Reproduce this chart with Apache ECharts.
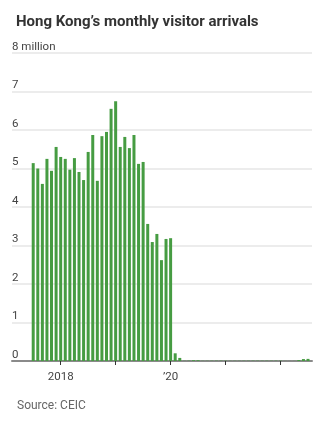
<!DOCTYPE html>
<html>
<head>
<meta charset="utf-8">
<script src="https://cdn.jsdelivr.net/npm/echarts@6/dist/echarts.min.js"></script>
<style>
  html, body { margin: 0; padding: 0; background: #fff; }
  #chart { width: 328px; height: 422px; }
</style>
</head>
<body>
<div id="chart"></div>
<script>
// Monthly visitor arrivals to Hong Kong, millions, July 2017 – July 2022
const startYear = 2017;
const startMonth = 7;
const arrivals = [
  // 2017 Jul–Dec
  5.14, 5.00, 4.60, 5.25, 4.94, 5.56,
  // 2018
  5.30, 5.25, 4.97, 5.27, 4.91, 4.70, 5.43, 5.87, 4.68, 5.84, 5.95, 6.55,
  // 2019
  6.75, 5.56, 5.82, 5.53, 5.87, 5.12, 5.17, 3.56, 3.09, 3.30, 2.62, 3.17,
  // 2020
  3.19, 0.20, 0.08, 0.005, 0.009, 0.02, 0.02, 0.005, 0.006, 0.007, 0.008, 0.008,
  // 2021
  0.007, 0.005, 0.006, 0.006, 0.007, 0.007, 0.008, 0.008, 0.007, 0.008, 0.007, 0.008,
  // 2022 Jan–Jul
  0.008, 0.003, 0.002, 0.003, 0.025, 0.05, 0.055
];

// Month labels, e.g. "2017-07"
const months = arrivals.map((_, i) => {
  const m = startMonth - 1 + i;
  const y = startYear + Math.floor(m / 12);
  return y + '-' + String((m % 12) + 1).padStart(2, '0');
});

// Year ticks (January of each year) and the labelled ones
const yearTicks = ['2018-01', '2019-01', '2020-01', '2021-01', '2022-01'];
const yearLabels = { '2018-01': '2018', '2020-01': '\u201920' };
const yTicks = [0, 1, 2, 3, 4, 5, 6, 7, 8];

// Months counted from January 2017 on the x scale
const monthIndex = s => (Number(s.slice(0, 4)) - 2017) * 12 + Number(s.slice(5, 7)) - 1;

const font = 'Roboto, sans-serif';

const chart = echarts.init(document.getElementById('chart'), null, { renderer: 'canvas' });
chart.setOption({
  animation: false,
  backgroundColor: '#ffffff',
  title: [
    {
      text: 'Hong Kong\u2019s monthly visitor arrivals',
      left: 11, top: 10,
      textStyle: { fontFamily: font, fontSize: 15, fontWeight: 'bold', color: '#333333' }
    },
    {
      text: 'Source: CEIC',
      left: 12, top: 395,
      textStyle: { fontFamily: font, fontSize: 12, fontWeight: 'normal', color: '#666666' }
    }
  ],
  grid: { left: 12, right: 16, top: 53, bottom: 61 },
  xAxis: {
    type: 'value',
    min: 1.37,
    max: 66.87,
    axisLine: { show: true, lineStyle: { color: '#8a8a8a', width: 2 } },
    axisTick: {
      show: true,
      customValues: yearTicks.map(monthIndex),
      length: 4,
      lineStyle: { color: '#333333', width: 1 }
    },
    axisLabel: {
      customValues: Object.keys(yearLabels).map(monthIndex),
      formatter: v => {
        const key = yearTicks.find(t => monthIndex(t) === v);
        return yearLabels[key] || '';
      },
      fontFamily: font, fontSize: 11.5, color: '#444444', margin: 10
    },
    splitLine: { show: false }
  },
  yAxis: {
    type: 'value',
    min: 0,
    max: 8,
    interval: 1,
    axisLine: { show: false },
    axisTick: { show: false },
    axisLabel: {
      inside: true,
      margin: 0,
      verticalAlign: 'bottom',
      padding: [0, 0, 0, 0],
      formatter: v => (v === yTicks[yTicks.length - 1] ? v + ' million' : String(v)),
      fontFamily: font, fontSize: 11.5, color: '#444444'
    },
    splitLine: { show: true, lineStyle: { color: '#ececec', width: 2 } }
  },
  series: [{
    type: 'bar',
    barWidth: 3,
    itemStyle: { color: '#469c42' },
    data: months.map((m, i) => [monthIndex(m), arrivals[i]])
  }]
});
</script>
</body>
</html>
